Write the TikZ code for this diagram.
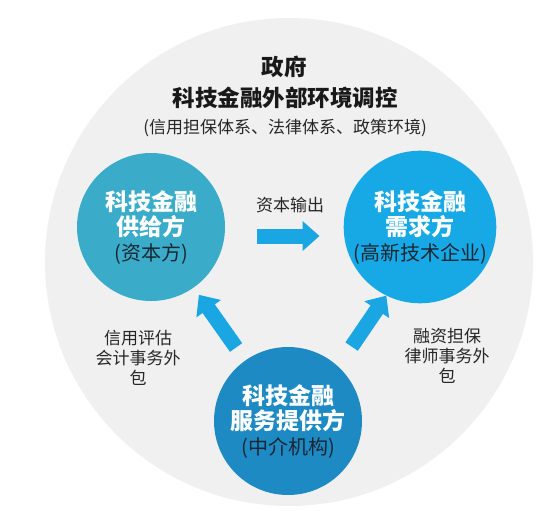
\documentclass[tikz,border=0pt]{standalone}
\usepackage{fontspec}
\setmainfont{Noto Sans CJK SC}
\usetikzlibrary{arrows.meta}

\definecolor{ringgray}{HTML}{F0F0F0}
\definecolor{supplyblue}{HTML}{3AACC9}
\definecolor{demandblue}{HTML}{17A9E6}
\definecolor{serviceblue}{HTML}{1D8AC4}
\definecolor{flowblue}{HTML}{1AA6E2}
\definecolor{inktext}{HTML}{1B2632}

\newcommand{\partysub}[1]{{\fontsize{20}{25}\selectfont\mdseries\color{inktext}#1}}

\begin{document}
\begin{tikzpicture}[x=1pt, y=-1pt,
  party/.style={circle, minimum size=148pt, inner sep=0pt, align=center,
                text=white, font=\fontsize{23}{25}\selectfont\bfseries},
  head/.style={font=\fontsize{22.5}{26}\selectfont\bfseries, text=black!90},
  subhead/.style={font=\fontsize{17}{20}\selectfont, text=black!85},
  note/.style={align=center, font=\fontsize{17}{20}\selectfont, text=black!85},
  blk/.style={flowblue, line width=15pt, -{Triangle[width=29pt,length=17pt]}}
]

%% ── Canvas and outer ring (government environment) ─────────────────────────
\useasboundingbox (0,0) rectangle (554,511);
\fill[white] (0,0) rectangle (554,511);
\node[circle, fill=ringgray, minimum size=488pt, inner sep=0pt] (ring) at (289,262) {};

%% ── Headings ────────────────────────────────────────────────────────────────
\node[head]    (gov)    at (284, 67) {政府};
\node[head]    (ctrl)   at (285, 98) {科技金融外部环境调控};
\node[subhead] (system) at (285,128) {(信用担保体系、法律体系、政策环境)};

%% ── The three parties ───────────────────────────────────────────────────────
\node[party, fill=supplyblue]  (supply)  at (151,227) {科技金融\\供给方\\\partysub{(资本方)}};
\node[party, fill=demandblue]  (demand)  at (420,227) {科技金融\\需求方\\\partysub{(高新技术企业)}};
\node[party, fill=serviceblue] (service) at (288,421) {科技金融\\服务提供方\\\partysub{(中介机构)}};

%% ── Flows ───────────────────────────────────────────────────────────────────
\draw[blk, shorten <=32pt, shorten >=24pt] ([yshift=-9pt]supply.east) -- ([yshift=-9pt]demand.west);
\node[note] (capital) at (290,205) {资本输出};

\draw[blk, shorten <=90pt, shorten >=83pt] (service.center) -- (supply.center);
\draw[blk, shorten <=90pt, shorten >=83pt] ([xshift=13pt]service.center) -- ([xshift=13pt]demand.center);

% Service labels beside the diagonal arrows
\node[note] (audit) at (138,358) {信用评估\\会计事务外\\包};
\node[note] (legal) at (447,356) {融资担保\\律师事务外\\包};

\end{tikzpicture}
\end{document}
